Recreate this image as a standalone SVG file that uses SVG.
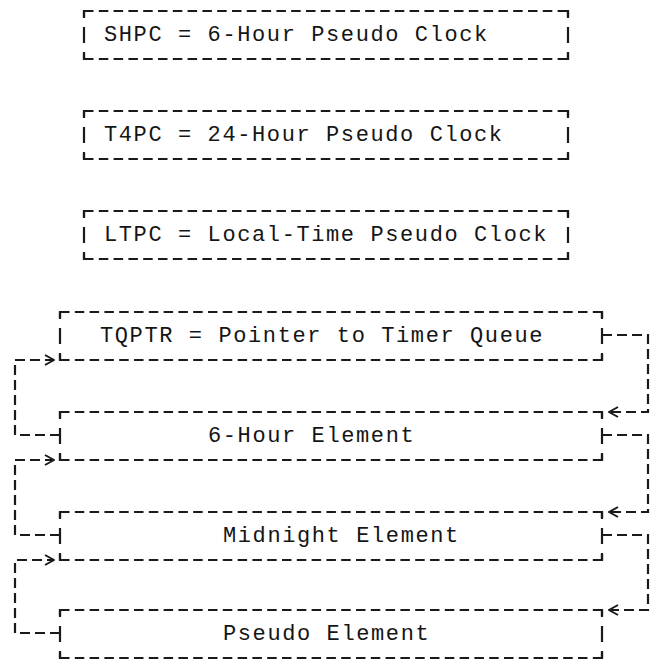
<svg xmlns="http://www.w3.org/2000/svg" width="657" height="664" viewBox="0 0 657 664">
  <style>
    .h{fill:none;stroke:#1a1a1a;stroke-width:2.2;stroke-dasharray:9.5 5.3}
    .v{fill:none;stroke:#1a1a1a;stroke-width:2.2;stroke-dasharray:6 10 16 10 6 200}
    .k{fill:none;stroke:#1a1a1a;stroke-width:2.2}
    .link{fill:none;stroke:#1a1a1a;stroke-width:2.2;stroke-dasharray:10 5}
    text{font-family:"Liberation Mono","DejaVu Sans Mono",monospace;font-size:22px;letter-spacing:1.6px;fill:#151515}
  </style>
  <defs>
    <marker id="chev" viewBox="0 0 12 12" refX="11" refY="6" markerWidth="12" markerHeight="12" markerUnits="userSpaceOnUse" orient="auto">
      <path d="M2 1L11 6L2 11" fill="none" stroke="#1a1a1a" stroke-width="2"/>
    </marker>
  </defs>
  <rect width="657" height="664" fill="#fff"/>

  <!-- pseudo clocks -->
  <g id="shpc">
    <path class="h" d="M84 11H568M84 59H568"/>
    <path class="v" d="M84 11V59M568 11V59"/>
    <path class="k" d="M84 18V11H91M561 11H568V18M84 52V59H91M561 59H568V52"/>
    <text x="104" y="41">SHPC = 6-Hour Pseudo Clock</text>
  </g>
  <g id="t4pc">
    <path class="h" d="M84 111H568M84 159H568"/>
    <path class="v" d="M84 111V159M568 111V159"/>
    <path class="k" d="M84 118V111H91M561 111H568V118M84 152V159H91M561 159H568V152"/>
    <text x="104" y="141">T4PC = 24-Hour Pseudo Clock</text>
  </g>
  <g id="ltpc">
    <path class="h" d="M84 211H568M84 259H568"/>
    <path class="v" d="M84 211V259M568 211V259"/>
    <path class="k" d="M84 218V211H91M561 211H568V218M84 252V259H91M561 259H568V252"/>
    <text x="104" y="241">LTPC = Local-Time Pseudo Clock</text>
  </g>

  <!-- timer queue -->
  <g id="tqptr">
    <path class="h" d="M60 312H602M60 360H602"/>
    <path class="v" d="M60 312V360M602 312V360"/>
    <path class="k" d="M60 319V312H67M595 312H602V319M60 353V360H67M595 360H602V353"/>
    <text x="100" y="342">TQPTR = Pointer to Timer Queue</text>
  </g>
  <g id="six-hour">
    <path class="h" d="M60 412H602M60 460H602"/>
    <path class="v" d="M60 412V460M602 412V460"/>
    <path class="k" d="M60 419V412H67M595 412H602V419M60 453V460H67M595 460H602V453"/>
    <text x="208" y="442">6-Hour Element</text>
  </g>
  <g id="midnight">
    <path class="h" d="M60 512H602M60 560H602"/>
    <path class="v" d="M60 512V560M602 512V560"/>
    <path class="k" d="M60 519V512H67M595 512H602V519M60 553V560H67M595 560H602V553"/>
    <text x="223" y="542">Midnight Element</text>
  </g>
  <g id="pseudo">
    <path class="h" d="M60 610H602M60 658H602"/>
    <path class="v" d="M60 610V658M602 610V658"/>
    <path class="k" d="M60 617V610H67M595 610H602V617M60 651V658H67M595 658H602V651"/>
    <text x="223" y="640">Pseudo Element</text>
  </g>

  <!-- queue links -->
  <g id="links">
    <path class="link" d="M60 435H15V360H54" marker-end="url(#chev)"/>
    <path class="link" d="M60 535H15V460H54" marker-end="url(#chev)"/>
    <path class="link" d="M60 633H15V560H54" marker-end="url(#chev)"/>
    <path class="link" d="M602 335H648V412H609" marker-end="url(#chev)"/>
    <path class="link" d="M602 435H648V512H609" marker-end="url(#chev)"/>
    <path class="link" d="M602 535H648V610H609" marker-end="url(#chev)"/>
  </g>
</svg>
